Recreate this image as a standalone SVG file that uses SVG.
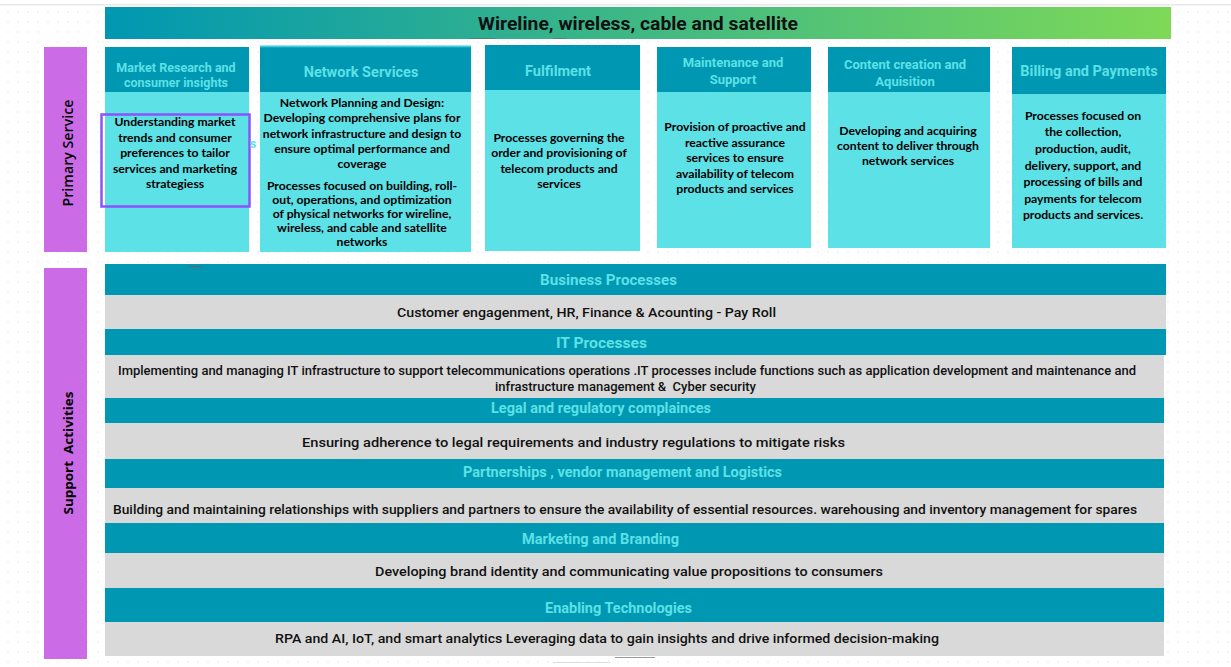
<svg xmlns="http://www.w3.org/2000/svg" width="1231" height="667" viewBox="0 0 1231 667">
<defs>
<linearGradient id="bannerGrad" x1="0" y1="0" x2="1" y2="0">
<stop offset="0" stop-color="#0097b2"/>
<stop offset="1" stop-color="#7ed957"/>
</linearGradient>
<pattern id="dots" x="0" y="0" width="10" height="10" patternUnits="userSpaceOnUse">
<rect x="7.3" y="1.3" width="1.4" height="1.4" fill="#e9e9e9"/>
</pattern>
</defs>
<style>
.dk{fill:#0097b2}
.lt{fill:#5ce1e6}
.gr{fill:#d9d9d9}
.side{fill:#cb6ce6}
.hd{font-family:Roboto,"Liberation Sans",sans-serif;font-weight:700;fill:#5ce1e6;text-anchor:middle}
.bd{font-family:Lato,"Open Sans","Liberation Sans",sans-serif;font-weight:700;fill:#000;text-anchor:middle;font-size:12.2px}
.sp{font-family:Roboto,"Liberation Sans",sans-serif;font-weight:500;fill:#111;text-anchor:middle;font-size:13px}
.vl{font-family:"Open Sans","Liberation Sans",sans-serif;fill:#000;text-anchor:middle;dominant-baseline:central}
.art{stroke:#666;stroke-width:1}
</style>
<rect x="0" y="0" width="1231" height="667" fill="#ffffff"/>
<rect x="0" y="6" width="1231" height="661" fill="url(#dots)"/>
<rect x="0" y="4" width="1231" height="1.5" fill="#e8e8e8"/>

<g id="banner">
<rect x="105" y="7" width="1066" height="32" fill="url(#bannerGrad)"/>
<text x="638" y="30" font-family="Roboto,'Liberation Sans',sans-serif" font-weight="700" font-size="19" fill="#111" text-anchor="middle" textLength="320" lengthAdjust="spacingAndGlyphs">Wireline, wireless, cable and satellite</text>
</g>

<g id="primary-service-label">
<rect class="side" x="44" y="47" width="43" height="205"/>
<text class="vl" x="67" y="153" font-size="14.5" font-weight="600" transform="rotate(-90 67 153)" textLength="107" lengthAdjust="spacingAndGlyphs">Primary Service</text>
</g>

<g id="support-activities-label">
<rect class="side" x="44" y="268" width="43" height="391"/>
<text class="vl" x="68" y="453" font-size="13" font-weight="700" transform="rotate(-90 68 453)" textLength="123" lengthAdjust="spacingAndGlyphs" xml:space="preserve">Support  Activities</text>
</g>

<g id="market-research">
<rect class="dk" x="105" y="47" width="144" height="45"/>
<rect class="lt" x="105" y="92" width="144" height="160"/>
<text class="hd" font-size="12.5" x="176" y="71.5">Market Research and</text>
<text class="hd" font-size="12.5" x="176" y="86.5">consumer insights</text>
<text class="bd" x="175" y="126.3">Understanding market</text>
<text class="bd" x="175" y="142.3">trends and consumer</text>
<text class="bd" x="175" y="157.3">preferences to tailor</text>
<text class="bd" x="175" y="173.3">services and marketing</text>
<text class="bd" x="175" y="188.3">strategiess</text>
<rect x="101.5" y="114.5" width="148" height="92" fill="none" stroke="#8c52ff" stroke-width="2.5"/>
<text x="250" y="148" font-family="Roboto,'Liberation Sans',sans-serif" font-weight="700" font-size="12" fill="#5ce1e6">s</text>
</g>

<g id="network-services">
<rect class="dk" x="260" y="46" width="211" height="46"/>
<rect x="260" y="45.5" width="211" height="1.8" fill="#3fc9dc"/>
<rect class="lt" x="260" y="92" width="211" height="160"/>
<text class="hd" font-size="14.5" x="361" y="77">Network Services</text>
<text class="bd" font-size="12.4" x="362" y="107.3">Network Planning and Design:</text>
<text class="bd" font-size="12.4" x="362" y="122.3">Developing comprehensive plans for</text>
<text class="bd" font-size="12.4" x="362" y="138.3">network infrastructure and design to</text>
<text class="bd" font-size="12.4" x="362" y="153.3">ensure optimal performance and</text>
<text class="bd" font-size="12.4" x="362" y="168.3">coverage</text>
<text class="bd" font-size="10.8" x="362" y="190">Processes focused on building, roll-</text>
<text class="bd" font-size="10.8" x="362" y="204">out, operations, and optimization</text>
<text class="bd" font-size="10.8" x="362" y="218">of physical networks for wireline,</text>
<text class="bd" font-size="10.8" x="362" y="232">wireless, and cable and satellite</text>
<text class="bd" font-size="10.8" x="362" y="246">networks</text>
</g>

<g id="fulfilment">
<rect class="dk" x="485" y="45" width="155" height="45"/>
<rect class="lt" x="485" y="90" width="155" height="161"/>
<text class="hd" font-size="14.5" x="558" y="76">Fulfilment</text>
<text class="bd" x="559" y="142.3">Processes governing the</text>
<text class="bd" x="559" y="157.3">order and provisioning of</text>
<text class="bd" x="559" y="173.3">telecom products and</text>
<text class="bd" x="559" y="188.3">services</text>
</g>

<g id="maintenance-support">
<rect class="dk" x="657" y="47" width="154" height="45"/>
<rect class="lt" x="657" y="92" width="154" height="156"/>
<text class="hd" font-size="13" x="733" y="66.5">Maintenance and</text>
<text class="hd" font-size="13" x="733" y="83.5">Support</text>
<text class="bd" x="735" y="131.3">Provision of proactive and</text>
<text class="bd" x="735" y="147.3">reactive assurance</text>
<text class="bd" x="735" y="162.3">services to ensure</text>
<text class="bd" x="735" y="178.3">availability of telecom</text>
<text class="bd" x="735" y="193.3">products and services</text>
</g>

<g id="content-creation">
<rect class="dk" x="828" y="47" width="162" height="45"/>
<rect class="lt" x="828" y="92" width="162" height="156"/>
<text class="hd" font-size="13" x="905" y="68.5">Content creation and</text>
<text class="hd" font-size="13" x="905" y="85.5">Aquisition</text>
<text class="bd" x="908" y="135.3">Developing and acquiring</text>
<text class="bd" x="908" y="150.3">content to deliver through</text>
<text class="bd" x="908" y="165.3">network services</text>
</g>

<g id="billing-payments">
<rect class="dk" x="1012" y="47" width="154" height="47"/>
<rect class="lt" x="1012" y="94" width="154" height="154"/>
<text class="hd" font-size="14.5" x="1089" y="76">Billing and Payments</text>
<text class="bd" font-size="15.4" x="1083" y="119.5">Processes focused on</text>
<text class="bd" font-size="15.4" x="1083" y="135.5">the collection,</text>
<text class="bd" font-size="15.4" x="1083" y="152.5">production, audit,</text>
<text class="bd" font-size="15.4" x="1083" y="169.5">delivery, support, and</text>
<text class="bd" font-size="15.4" x="1083" y="185.5">processing of bills and</text>
<text class="bd" font-size="15.4" x="1083" y="202.5">payments for telecom</text>
<text class="bd" font-size="15.4" x="1083" y="218.5">products and services.</text>
</g>

<g id="business-processes">
<rect class="dk" x="105" y="264" width="1061" height="31"/>
<rect class="gr" x="105" y="295" width="1061" height="34"/>
<text class="hd" font-size="14.5" x="608.5" y="285" textLength="137" lengthAdjust="spacingAndGlyphs">Business Processes</text>
<text class="sp" x="586.5" y="316.5" textLength="379" lengthAdjust="spacingAndGlyphs">Customer engagenment, HR, Finance &amp; Acounting - Pay Roll</text>
</g>

<g id="it-processes">
<rect class="dk" x="105" y="329" width="1061" height="26"/>
<rect class="gr" x="105" y="355" width="1059" height="43"/>
<text class="hd" font-size="14.5" x="601.5" y="348" textLength="91" lengthAdjust="spacingAndGlyphs">IT Processes</text>
<text class="sp" font-size="12.5" x="627" y="374.5" textLength="1018" lengthAdjust="spacingAndGlyphs">Implementing and managing IT infrastructure to support telecommunications operations .IT processes include functions such as application development and maintenance and</text>
<text class="sp" font-size="12.5" x="625.5" y="390.5" textLength="261" lengthAdjust="spacingAndGlyphs" xml:space="preserve">infrastructure management &amp;  Cyber security</text>
</g>

<g id="legal-regulatory">
<rect class="dk" x="105" y="398" width="1059" height="25"/>
<rect class="gr" x="105" y="423" width="1059" height="36"/>
<text class="hd" font-size="14" x="601" y="412.5" textLength="220" lengthAdjust="spacingAndGlyphs">Legal and regulatory complainces</text>
<text class="sp" font-size="14.5" x="573.5" y="447" textLength="543" lengthAdjust="spacingAndGlyphs">Ensuring adherence to legal requirements and industry regulations to mitigate risks</text>
</g>

<g id="partnerships">
<rect class="dk" x="105" y="459" width="1059" height="29"/>
<rect class="gr" x="105" y="488" width="1059" height="35"/>
<text class="hd" font-size="14" x="622.5" y="477" textLength="319" lengthAdjust="spacingAndGlyphs">Partnerships , vendor management and Logistics</text>
<text class="sp" x="625" y="513.5" textLength="1024" lengthAdjust="spacingAndGlyphs">Building and maintaining relationships with suppliers and partners to ensure the availability of essential resources. warehousing and inventory management for spares</text>
</g>

<g id="marketing-branding">
<rect class="dk" x="105" y="523" width="1059" height="30"/>
<rect class="gr" x="105" y="553" width="1059" height="35"/>
<text class="hd" font-size="14" x="600.5" y="544" textLength="157" lengthAdjust="spacingAndGlyphs">Marketing and Branding</text>
<text class="sp" x="629" y="575.5" textLength="508" lengthAdjust="spacingAndGlyphs">Developing brand identity and communicating value propositions to consumers</text>
</g>

<g id="enabling-technologies">
<rect class="dk" x="105" y="588" width="1059" height="34"/>
<rect class="gr" x="105" y="622" width="1059" height="34"/>
<text class="hd" font-size="14" x="618.5" y="613" textLength="147" lengthAdjust="spacingAndGlyphs">Enabling Technologies</text>
<text class="sp" x="607" y="642.5" textLength="664" lengthAdjust="spacingAndGlyphs">RPA and AI, IoT, and smart analytics Leveraging data to gain insights and drive informed decision-making</text>
</g>

<g id="connectors"></g>

<g id="artifacts">
<line class="art" x1="189" y1="266.5" x2="202" y2="266.5"/>
<line class="art" x1="470" y1="38.5" x2="495" y2="38.5" stroke-opacity="0.6"/>
<line class="art" x1="553" y1="38.5" x2="566" y2="38.5" stroke-opacity="0.6"/>
<line x1="553" y1="662.5" x2="610" y2="662.5" stroke="#dddddd" stroke-width="1"/>
<line x1="615" y1="657.5" x2="655" y2="657.5" stroke="#999999" stroke-width="1"/>
</g>
</svg>
